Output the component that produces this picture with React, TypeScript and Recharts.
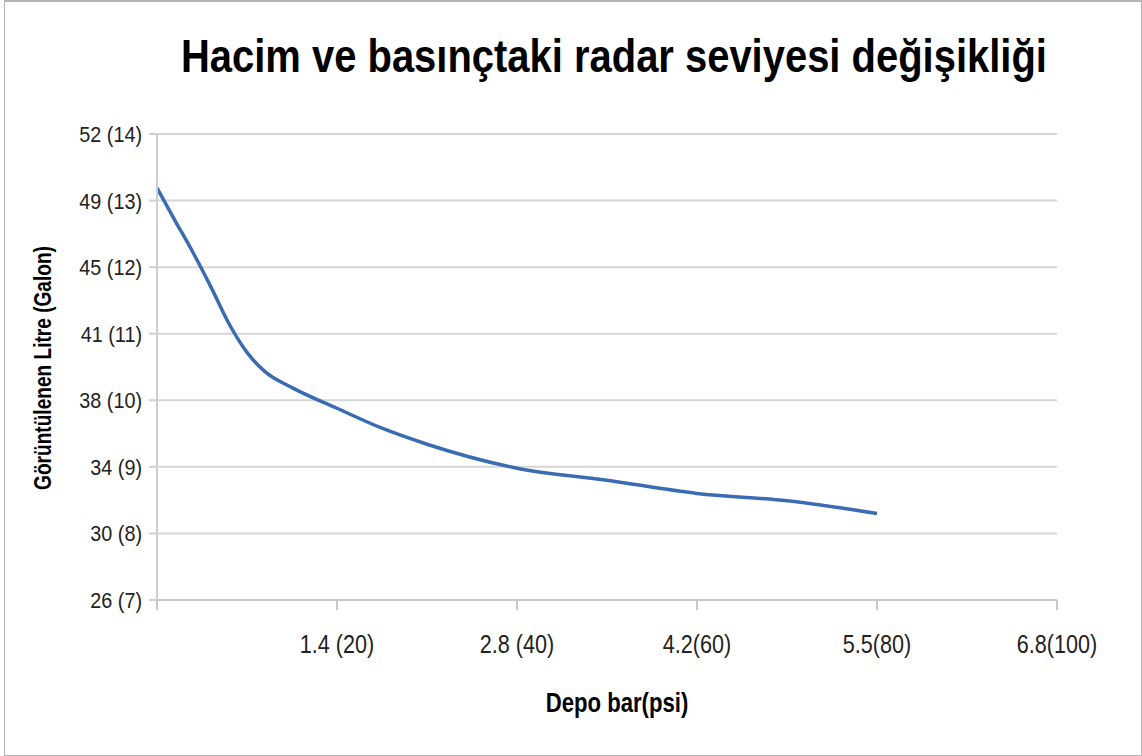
import React from 'react';
import { LineChart, Line, XAxis, YAxis, CartesianGrid } from 'recharts';

const titleText = 'Hacim ve basınçtaki radar seviyesi değişikliği';
const yAxisTitle = 'Görüntülenen Litre (Galon)';
const xAxisTitle = 'Depo bar(psi)';

const pressurePsi = [0, 2, 4, 6, 8, 10, 12, 15, 20, 25, 30, 40, 50, 60, 70, 80];
const volumeGallons = [13.19, 12.7, 12.22, 11.7, 11.15, 10.72, 10.43, 10.19, 9.88, 9.58, 9.34, 8.98, 8.8, 8.6, 8.49, 8.3];

const xTicks = [0, 20, 40, 60, 80, 100];
const xTickLabels = ['', '1.4 (20)', '2.8 (40)', '4.2(60)', '5.5(80)', '6.8(100)'];
const yTicks = [7, 8, 9, 10, 11, 12, 13, 14];
const yTickLabels = ['26 (7)', '30 (8)', '34 (9)', '38 (10)', '41 (11)', '45 (12)', '49 (13)', '52 (14)'];

const data = pressurePsi.map((p, i) => ({ psi: p, gal: volumeGallons[i] }));

const FONT = "'Liberation Sans', Arial, sans-serif";

const XTick = (props: any) => {
  const { x, y, payload } = props;
  const idx = xTicks.indexOf(payload.value);
  return (
    <g transform={`translate(${x} ${y + 41}) scale(0.83 1)`}>
      <text x={0} y={0} textAnchor="middle" fill="#222" fontSize={26} fontFamily={FONT}>
        {xTickLabels[idx]}
      </text>
    </g>
  );
};

const YTick = (props: any) => {
  const { x, y, payload } = props;
  const idx = yTicks.indexOf(payload.value);
  return (
    <g transform={`translate(${x} ${y + 8}) scale(0.9 1)`}>
      <text x={0} y={0} textAnchor="end" fill="#222" fontSize={22} fontFamily={FONT}>
        {yTickLabels[idx]}
      </text>
    </g>
  );
};

export default function App() {
  return (
    <div style={{ position: 'absolute', left: 0, top: 0, width: 1142, height: 756, background: '#fff', overflow: 'hidden' }}>
      <div style={{ position: 'absolute', left: 4, top: 0, width: 1136, height: 753, border: '1px solid #b4b4b4', borderTopWidth: 2 }} />
      <LineChart width={1142} height={756} data={data}
        margin={{ top: 134, right: 85, bottom: 126, left: 77 }}
        style={{ position: 'absolute', left: 0, top: 0 }}>
        <CartesianGrid vertical={false} stroke="#d6d6d6" strokeWidth={2} />
        <XAxis dataKey="psi" type="number" domain={[0, 100]} ticks={xTicks} interval={0}
          height={30} tick={<XTick />} tickSize={10} stroke="#c8c8c8" strokeWidth={2} />
        <YAxis type="number" domain={[7, 14]} ticks={yTicks} interval={0} width={80}
          tick={<YTick />} tickSize={8} tickMargin={7} stroke="#d0d0d0" strokeWidth={2} />
        <Line type="monotone" dataKey="gal" stroke="#3a6cb4" strokeWidth={3.5} dot={false}
          isAnimationActive={false} />
      </LineChart>
      <svg width={1142} height={756} style={{ position: 'absolute', left: 0, top: 0, pointerEvents: 'none' }}>
        <g transform="translate(181 72) scale(0.85 1)">
          <text x={0} y={0} fontSize={47} fontWeight="bold" fill="#000" fontFamily={FONT}>{titleText}</text>
        </g>
        <g transform="translate(617 712) scale(0.79 1)">
          <text x={0} y={0} fontSize={28} fontWeight="bold" fill="#000" textAnchor="middle" fontFamily={FONT}>{xAxisTitle}</text>
        </g>
        <g transform="translate(51 368) rotate(-90) scale(0.83 1)">
          <text x={0} y={0} fontSize={23} fontWeight="bold" fill="#000" textAnchor="middle" fontFamily={FONT}>{yAxisTitle}</text>
        </g>
      </svg>
    </div>
  );
}
